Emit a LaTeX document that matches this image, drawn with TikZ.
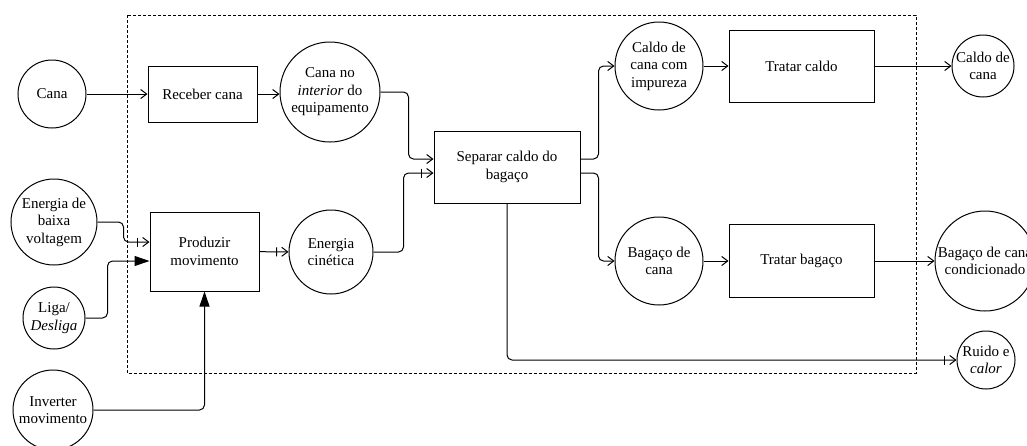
\documentclass[tikz,border=0pt]{standalone}
\usepackage{fontspec}
\setmainfont{Liberation Serif}
\usetikzlibrary{arrows.meta}

\tikzset{
  proc/.style={draw, align=center, inner sep=0pt},
  data/.style={draw, circle, align=center, inner sep=-10pt},
  flow/.style={-{Straight Barb[length=6pt,width=9pt]}, rounded corners=5pt},
  energy/.style={-{Bar[width=9pt,sep=4pt]Straight Barb[length=6pt,width=9pt]}, rounded corners=5pt},
  control/.style={-{Triangle[length=15pt,width=10pt]}, rounded corners=5pt},
}

\begin{document}
\begin{tikzpicture}[x=1pt, y=-1pt, line width=1pt, font=\fontsize{15}{17.5}\selectfont]
        \useasboundingbox (0,0) rectangle (1027,445);
        \draw[densely dashed] (127,15) rectangle (916,373);

        % entradas
        \node[data, minimum size=68] (cana) at (52,94) {Cana};
        \node[data, minimum size=86] (ebv) at (54,222) {Energia de\\baixa\\voltagem};
        \node[data, minimum size=62] (liga) at (54,318) {Liga/\\\textit{Desliga}};
        \node[data, minimum size=80] (inv) at (53,410) {Inverter\\movimento};

        % funcoes e fluxos internos
        \node[proc, minimum width=109, minimum height=56] (receber) at (202.5,94) {Receber cana};
        \node[data, minimum size=100] (cni) at (330,92) {Cana no\\\textit{interior} do\\equipamento};
        \node[proc, minimum width=109, minimum height=79] (prod) at (204.5,251.5) {Produzir\\movimento};
        \node[data, minimum size=84] (ecin) at (331,252) {Energia\\cinética};
        \node[proc, minimum width=146, minimum height=72] (sep) at (507,167) {Separar caldo do\\bagaço};
        \node[data, minimum size=88] (cci) at (659,66) {Caldo de\\cana com\\impureza};
        \node[data, minimum size=88] (bag) at (659,261) {Bagaço de\\cana};
        \node[proc, minimum width=145, minimum height=72] (tcaldo) at (801.5,66) {Tratar caldo};
        \node[proc, minimum width=145, minimum height=73] (tbag) at (801.5,261) {Tratar bagaço};

        % saidas
        \node[data, minimum size=62] (caldo) at (983,66) {Caldo de\\cana};
        \node[data, minimum size=100] (bagcond) at (985,261) {Bagaço de cana\\condicionado};
        \node[data, minimum size=58] (ruido) at (986,360) {Ruido e\\\textit{calor}};

        \draw[flow] (cana) -- (receber);
        \draw[flow] (receber) -- (receber -| cni.west);
        \draw[flow] (cni.east) -- ++(28,0) |- ([yshift=8pt]sep.west);
        \draw[energy] (ebv.east) -- ++(26,0) |- ([yshift=9.5pt]prod.west);
        \draw[control] (liga.east) -- ++(22,0) |- ([yshift=-9.5pt]prod.west);
        \draw[control] (inv.east) -| (prod.south);
        \draw[energy] (prod) -- (ecin);
        \draw[energy] (ecin.east) -- ++(30,0) |- ([yshift=-6pt]sep.west);
        \draw[flow] ([yshift=8pt]sep.east) -- ++(18,0) |- (cci.west);
        \draw[flow] ([yshift=-6pt]sep.east) -- ++(18,0) |- (bag.west);
        \draw[flow] (cci) -- (tcaldo);
        \draw[flow] (tcaldo) -- (caldo);
        \draw[flow] (bag) -- (tbag);
        \draw[flow] (tbag) -- (bagcond);
        \draw[energy] (sep.south) |- (ruido.west);
\end{tikzpicture}
\end{document}
